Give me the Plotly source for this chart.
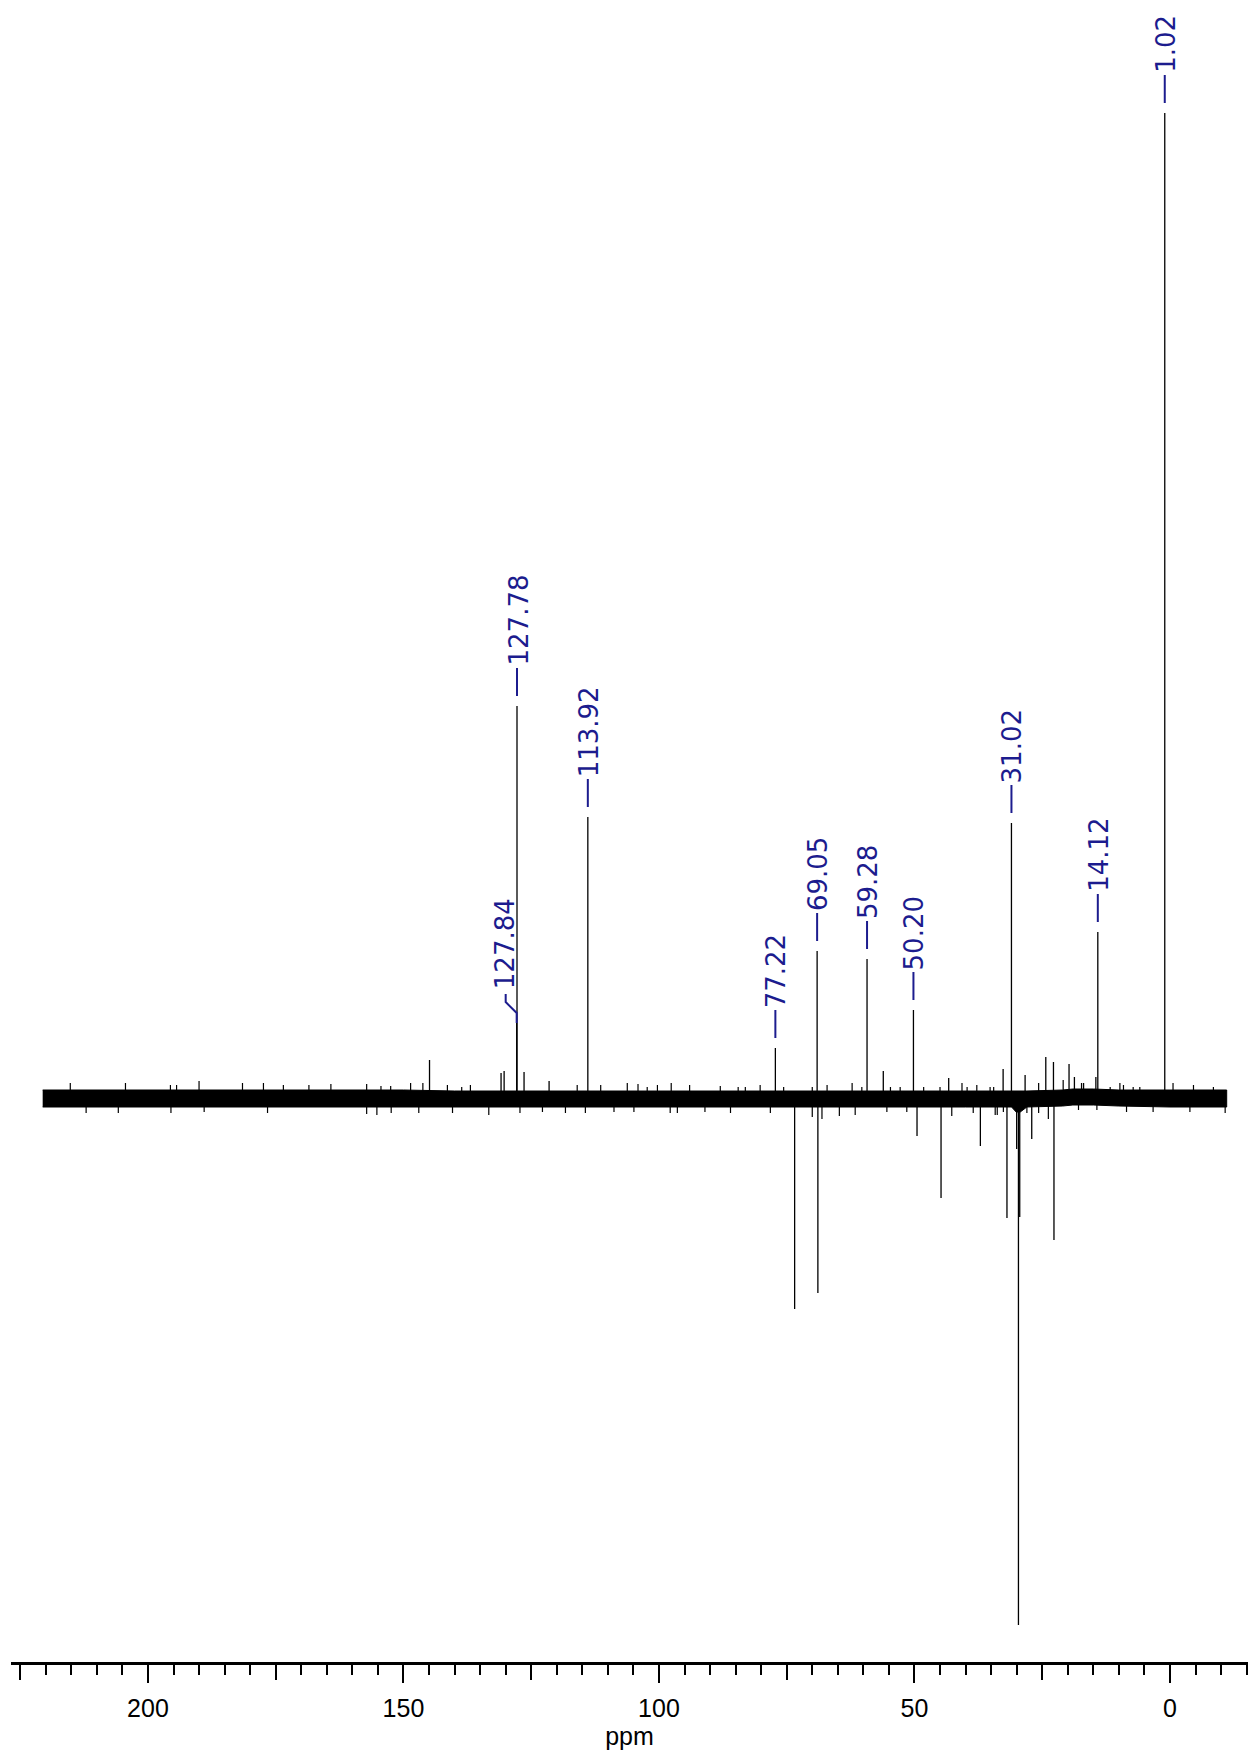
import plotly.graph_objects as go

# ---- 13C DEPT-style spectrum data (ppm, intensity in arbitrary units) ----
# Labelled positive signals
label_ppm = [1.02, 127.78, 113.92, 77.22, 69.05, 59.28, 50.20, 31.02, 14.12]
label_text = ["1.02", "127.78", "113.92", "77.22", "69.05", "59.28", "50.20", "31.02", "14.12"]
label_height = [986, 393, 282, 51, 148, 140, 89, 276, 167]

# Labelled shoulder hidden under 127.78
shoulder_ppm = [127.84]
shoulder_text = ["127.84"]
shoulder_height = [76]

# Small unlabelled positive signals
minor_ppm = [144.9, 130.9, 130.3, 126.4, 121.5, 56.1, 43.3, 32.65, 28.35,
             24.3, 22.8, 19.75, 18.7, 17.3, 14.5]
minor_height = [39, 26, 28, 27, 18, 28, 21, 30, 24, 42, 37, 35, 22, 16, 22]

# Negative (inverted) signals
neg_ppm = [73.45, 68.9, 49.5, 44.8, 37.1, 31.9, 30.0, 29.65, 29.4, 27.05, 22.7]
neg_height = [-210, -194, -37, -99, -47, -119, -50, -526, -118, -40, -141]

# Baseline noise envelope
noise_ppm = [220.6, 210, 200, 190, 180, 170, 160, 150, 140, 130, 120, 110, 100,
             90, 80, 70, 60, 50, 40, 31, 30.1, 29.3, 28, 21, 19, 15, 10, 0, -11.1]
noise_upper = [9, 9, 9, 9, 9, 9, 9, 9, 8, 8, 8, 8, 8,
               8, 8, 8, 8, 8, 8, 8, 8, 8, 8, 9, 10, 10, 9, 9, 9]
noise_lower = [-8, -8, -8, -8, -8, -8, -8, -8, -8, -8, -8, -8, -8,
               -8, -8, -8, -8, -8, -8, -8, -13, -13, -8, -7, -6, -6, -7, -8, -8]

# Noise spikes standing out of the band
spike_up_ppm = [215.2, 204.4, 195.6, 194.4, 190.0, 181.5, 177.4, 173.5, 168.5, 164.2,
                157.2, 154.4, 152.5, 148.6, 146.2, 141.4, 138.6, 136.9, 116.0, 111.4,
                106.2, 104.1, 102.3, 100.3, 97.6, 94.0, 88.0, 84.5, 83.1, 80.2,
                75.6, 70.0, 67.1, 62.2, 60.3, 54.7, 52.8, 48.2, 45.0, 40.7,
                39.7, 37.8, 35.2, 34.5, 25.7, 20.9, 16.9, 11.7, 9.8, 9.1,
                7.2, 5.9, -0.6, -4.6, -8.5]
spike_up_height = [16, 16, 14, 14, 18, 16, 16, 14, 14, 15,
                   15, 13, 13, 16, 16, 14, 12, 14, 14, 14,
                   16, 15, 12, 14, 16, 14, 13, 12, 12, 14,
                   12, 12, 14, 16, 12, 12, 12, 12, 12, 16,
                   12, 14, 12, 12, 16, 19, 16, 12, 16, 14,
                   12, 12, 16, 14, 12]
spike_dn_ppm = [212.1, 205.8, 195.5, 189.0, 176.6, 157.2, 155.2, 152.4, 147.0, 140.4,
                133.3, 127.2, 122.8, 118.3, 114.4, 108.8, 104.9, 97.8, 96.4, 91.0,
                86.0, 78.2, 70.0, 68.1, 64.7, 61.6, 55.4, 51.5, 42.7, 38.5,
                34.2, 33.8, 32.6, 28.0, 25.7, 23.8, 17.9, 14.3, 8.5, 3.3,
                -3.9, -10.8]
spike_dn_height = [-14, -14, -14, -13, -14, -15, -16, -14, -14, -14,
                   -16, -14, -13, -14, -14, -13, -13, -14, -14, -13,
                   -14, -14, -18, -20, -17, -16, -13, -13, -17, -14,
                   -16, -16, -13, -14, -14, -20, -11, -11, -13, -13,
                   -13, -14]

# Axis ticks
major_ticks = [200, 150, 100, 50, 0]
major_labels = ["200", "150", "100", "50", "0"]
medium_ticks = [225, 175, 125, 75, 25]

X_RANGE = [226.8, -15.27]
Y_RANGE = [-563, 1099]
LABEL_BLUE = "#1c1c8e"
LABEL_FONT = dict(family="DejaVu Sans, Liberation Sans, sans-serif", size=26, color=LABEL_BLUE)
AXIS_FONT = dict(family="Liberation Sans Narrow, Arial Narrow, Liberation Sans, sans-serif",
                 size=25, color="black")


def sticks(ppms, heights):
    xs, ys = [], []
    for p, h in zip(ppms, heights):
        xs += [p, p, None]
        ys += [0, h, None]
    return xs, ys


fig = go.Figure()

# baseline noise band
fig.add_trace(go.Scatter(
    x=noise_ppm + noise_ppm[::-1],
    y=noise_upper + noise_lower[::-1],
    fill="toself", fillcolor="black",
    line=dict(color="black", width=1),
    mode="lines", hoverinfo="skip", showlegend=False,
))

# noise spikes
sx1, sy1 = sticks(spike_up_ppm, spike_up_height)
sx2, sy2 = sticks(spike_dn_ppm, spike_dn_height)
fig.add_trace(go.Scatter(x=sx1 + sx2, y=sy1 + sy2, mode="lines",
                         line=dict(color="black", width=1.2),
                         hoverinfo="skip", showlegend=False))

# signals
px_all = label_ppm + shoulder_ppm + minor_ppm + neg_ppm
ph_all = label_height + shoulder_height + minor_height + neg_height
pxs, pys = sticks(px_all, ph_all)
fig.add_trace(go.Scatter(x=pxs, y=pys, mode="lines",
                         line=dict(color="black", width=1.3),
                         showlegend=False))

# invisible trace carrying the labelled ppm axis
fig.add_trace(go.Scatter(x=[X_RANGE[0], X_RANGE[1]], y=[0, 0], xaxis="x2",
                         mode="markers", marker=dict(opacity=0),
                         hoverinfo="skip", showlegend=False))

shapes = []
annotations = []

# peak labels: short connector dash + rotated value
for p, t, h in zip(label_ppm, label_text, label_height):
    shapes.append(dict(type="line", xref="x", yref="y", ysizemode="pixel",
                       x0=p, x1=p, yanchor=h, y0=10, y1=38,
                       line=dict(color=LABEL_BLUE, width=2)))
    annotations.append(dict(x=p, y=h, xref="x", yref="y", text=t, showarrow=False,
                            textangle=-90, xanchor="center", yanchor="bottom",
                            yshift=38, xshift=1, font=LABEL_FONT))

# shoulder label with bent connector
for p, t, h in zip(shoulder_ppm, shoulder_text, shoulder_height):
    shapes.append(dict(type="path", xref="x", yref="y",
                       xsizemode="pixel", ysizemode="pixel",
                       xanchor=p, yanchor=h,
                       path="M0,0 L0,10 L-11,21 L-11,29",
                       line=dict(color=LABEL_BLUE, width=2)))
    annotations.append(dict(x=p, y=h, xref="x", yref="y", text=t, showarrow=False,
                            textangle=-90, xanchor="center", yanchor="bottom",
                            yshift=32, xshift=-12, font=LABEL_FONT))

fig.update_layout(
    width=1248, height=1757,
    margin=dict(l=11, r=0, t=0, b=95),
    paper_bgcolor="white", plot_bgcolor="white",
    showlegend=False,
    shapes=shapes, annotations=annotations,
    xaxis=dict(
        range=X_RANGE, showgrid=False, zeroline=False,
        showline=True, linecolor="black", linewidth=2.5,
        ticks="outside", tickvals=medium_ticks + major_ticks, ticklen=15,
        tickwidth=1.5, tickcolor="black", showticklabels=False,
        minor=dict(dtick=5, tick0=0, ticks="outside", ticklen=10,
                   tickwidth=1.5, tickcolor="black", showgrid=False),
    ),
    xaxis2=dict(
        range=X_RANGE, overlaying="x", anchor="y", side="bottom",
        showgrid=False, zeroline=False, showline=False,
        ticks="outside", tickvals=major_ticks, ticktext=major_labels,
        ticklen=20, tickwidth=1.5, tickcolor="black",
        tickfont=AXIS_FONT, ticklabelstandoff=4,
        title=dict(text="ppm", font=AXIS_FONT, standoff=6),
    ),
    yaxis=dict(range=Y_RANGE, visible=False, showgrid=False, zeroline=False),
)

fig.write_html("out.html")
